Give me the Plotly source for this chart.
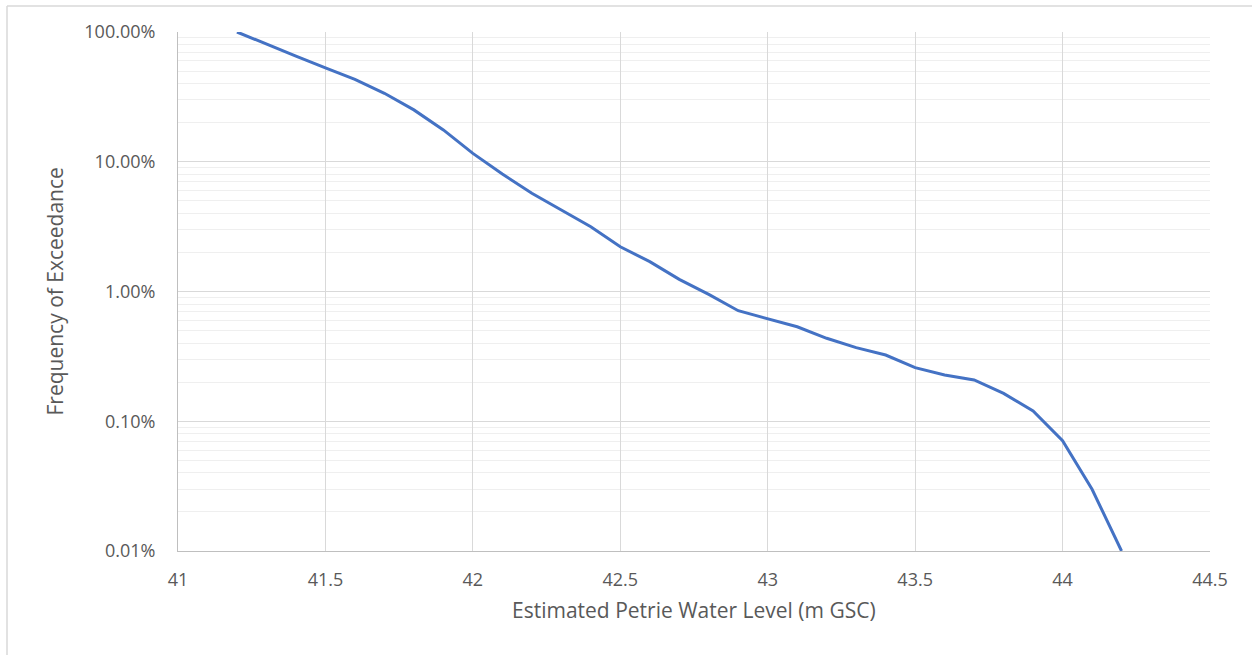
import plotly.graph_objects as go

water_level = [41.2, 41.3, 41.4, 41.5, 41.6, 41.7, 41.8, 41.9, 42.0, 42.1, 42.2,
               42.3, 42.4, 42.5, 42.6, 42.7, 42.8, 42.9, 43.0, 43.1, 43.2,
               43.3, 43.4, 43.5, 43.6, 43.7, 43.8, 43.9, 44.0, 44.1, 44.2]
exceedance_pct = [100, 80.5, 65.2, 53.0, 43.2, 33.7, 25.1, 17.6, 11.6, 8.05, 5.71,
                  4.25, 3.16, 2.21, 1.70, 1.24, 0.95, 0.711, 0.621, 0.535, 0.436,
                  0.369, 0.324, 0.259, 0.227, 0.208, 0.164, 0.120, 0.0708, 0.0299, 0.0100]
exceedance = [v / 100 for v in exceedance_pct]

x_title = "Estimated Petrie Water Level (m GSC)"
y_title = "Frequency of Exceedance"

FONT = "Open Sans"
TXT = "#595959"

fig = go.Figure()
fig.add_trace(go.Scatter(x=water_level, y=exceedance, mode="lines",
                         line=dict(color="#4472C4", width=3), showlegend=False))

W, H = 1252, 655
L, R, T, B = 178, 42, 32, 104
pw, ph = W - L - R, H - T - B

fig.update_layout(
    width=W, height=H, autosize=False,
    margin=dict(l=L, r=R, t=T, b=B),
    paper_bgcolor="white", plot_bgcolor="white",
    font=dict(family=FONT, color=TXT, size=18),
    xaxis=dict(range=[41, 44.5], dtick=0.5, tick0=41, showgrid=True,
               gridcolor="#d9d9d9", gridwidth=1, zeroline=False,
               showline=True, linecolor="#bfbfbf", linewidth=1,
               ticks="", ticklabelstandoff=12,
               tickfont=dict(size=18, color=TXT, family=FONT)),
    yaxis=dict(type="log", range=[-4, 0], dtick=1, tickformat=".2%",
               showgrid=True, gridcolor="#d9d9d9", gridwidth=1, zeroline=False,
               showline=True, linecolor="#bfbfbf", linewidth=1,
               ticks="", ticklabelstandoff=18,
               tickfont=dict(size=18, color=TXT, family=FONT),
               minor=dict(dtick="D1", showgrid=True, gridcolor="#efefef", gridwidth=1, ticks="")),
)

fig.add_annotation(text=x_title, xref="paper", yref="paper", x=0.5, y=-(610 - 551) / ph,
                   showarrow=False, xanchor="center", yanchor="middle",
                   font=dict(size=21, color=TXT, family=FONT))
fig.add_annotation(text=y_title, xref="paper", yref="paper", x=(54 - L) / pw, y=0.5,
                   textangle=-90, showarrow=False, xanchor="center", yanchor="middle",
                   font=dict(size=21, color=TXT, family=FONT))

# outer chart border (left and top edges visible)
bx = (7 - L) / pw
by_top = 1 + (T - 6) / ph
by_bot = -(H - (T + ph)) / ph - 0.01
bx_right = (W - L) / pw + 0.01
fig.add_shape(type="line", xref="paper", yref="paper", x0=bx, x1=bx, y0=by_bot, y1=by_top,
              line=dict(color="#d9d9d9", width=1.5))
fig.add_shape(type="line", xref="paper", yref="paper", x0=bx, x1=bx_right, y0=by_top, y1=by_top,
              line=dict(color="#d9d9d9", width=1.5))

fig.write_html("out.html", config={"displayModeBar": False},
               post_script="document.body.style.margin='0';")
